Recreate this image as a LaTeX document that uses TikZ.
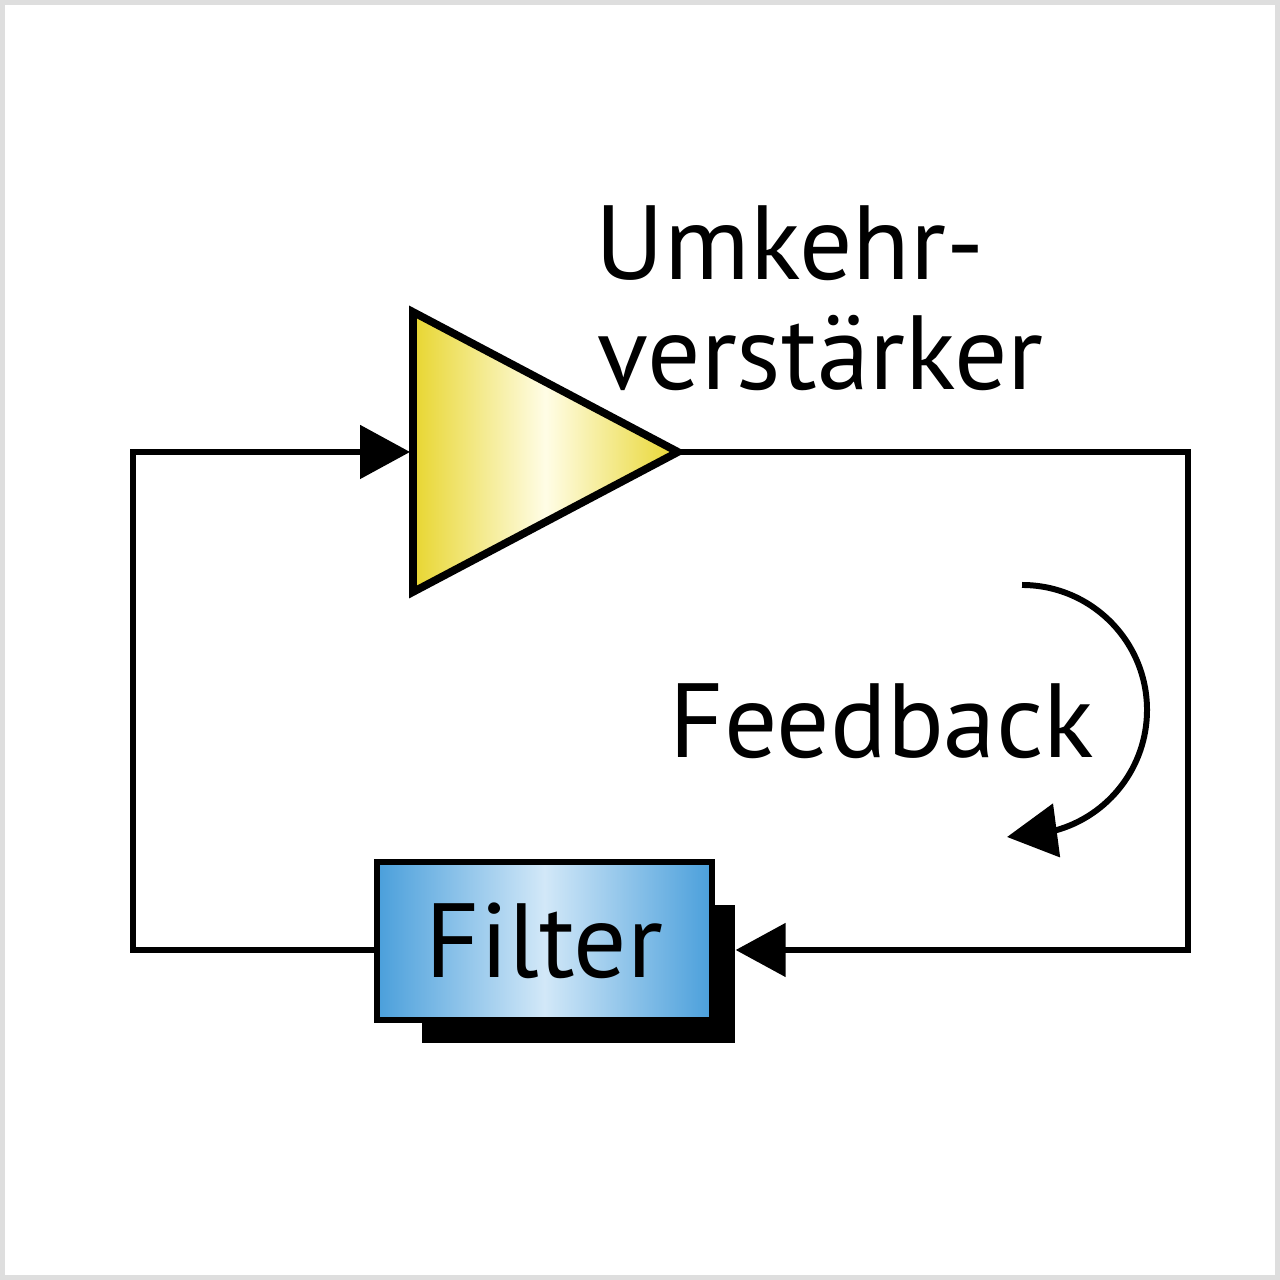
\documentclass[tikz,border=0pt]{standalone}
\usepackage{fontspec}
\setmainfont{PT Sans}
\usepackage{xcolor}
\usepackage{tikz}
\usetikzlibrary{arrows.meta}
\definecolor{ampyellow}{RGB}{232,214,48}
\definecolor{amplight}{RGB}{255,253,230}
\definecolor{filterblue}{RGB}{74,159,219}
\definecolor{filterlight}{RGB}{210,232,248}
\definecolor{framegray}{RGB}{222,222,222}

\begin{document}
\begin{tikzpicture}[
  wire/.style={line width=1.5pt},
  tip/.style={-{Triangle[length=5mm,width=5.3mm]}},
  lbl/.style={font=\fontsize{30}{33}\selectfont, inner sep=0pt, anchor=base west}]
\fill[framegray] (0,0) rectangle (12.8,12.8);
\fill[white] (0.05,0.05) rectangle (12.75,12.75);
\useasboundingbox (0,0) rectangle (12.8,12.8);
% amplifier
\coordinate (inA) at (4.10,8.28);
\coordinate (outA) at (6.78,8.28);
\draw[line width=2.2pt, left color=ampyellow, right color=ampyellow, middle color=amplight]
  (4.13,9.68) -- (outA) -- (4.13,6.88) -- cycle;
\node[lbl] (umkehr) at (5.95,10.00) {Umkehr-};
\node[lbl] (verst) at (5.97,8.90) {verstärker};
% filter with its shadow
\node[fill=black, minimum width=3.13cm, minimum height=1.38cm, inner sep=0pt] (shadow) at (5.785,3.06) {};
\node[draw, line width=1.8pt, left color=filterblue, right color=filterblue, middle color=filterlight,
  minimum width=3.35cm, minimum height=1.58cm, inner sep=0pt, font=\fontsize{30}{33}\selectfont] (filter) at (5.445,3.39) {Filter};
% loop
\coordinate (ne) at (11.88,8.28);
\coordinate (se) at (11.88,3.30);
\coordinate (sw) at (1.33,3.30);
\coordinate (nw) at (1.33,8.28);
\draw[wire, tip] (outA) -- (ne) -- (se) -- (shadow.east |- se);
\draw[wire, tip] (filter.west |- sw) -- (sw) -- (nw) -- (inA);
% feedback
\coordinate (fbend) at (10.07,4.43);
\draw[line width=1.7pt, tip] (10.22,6.95) arc[start angle=90, end angle=-75, radius=1.25] -- (fbend);
\node[lbl] (fb) at (6.69,5.22) {Feedback};
\end{tikzpicture}
\end{document}
